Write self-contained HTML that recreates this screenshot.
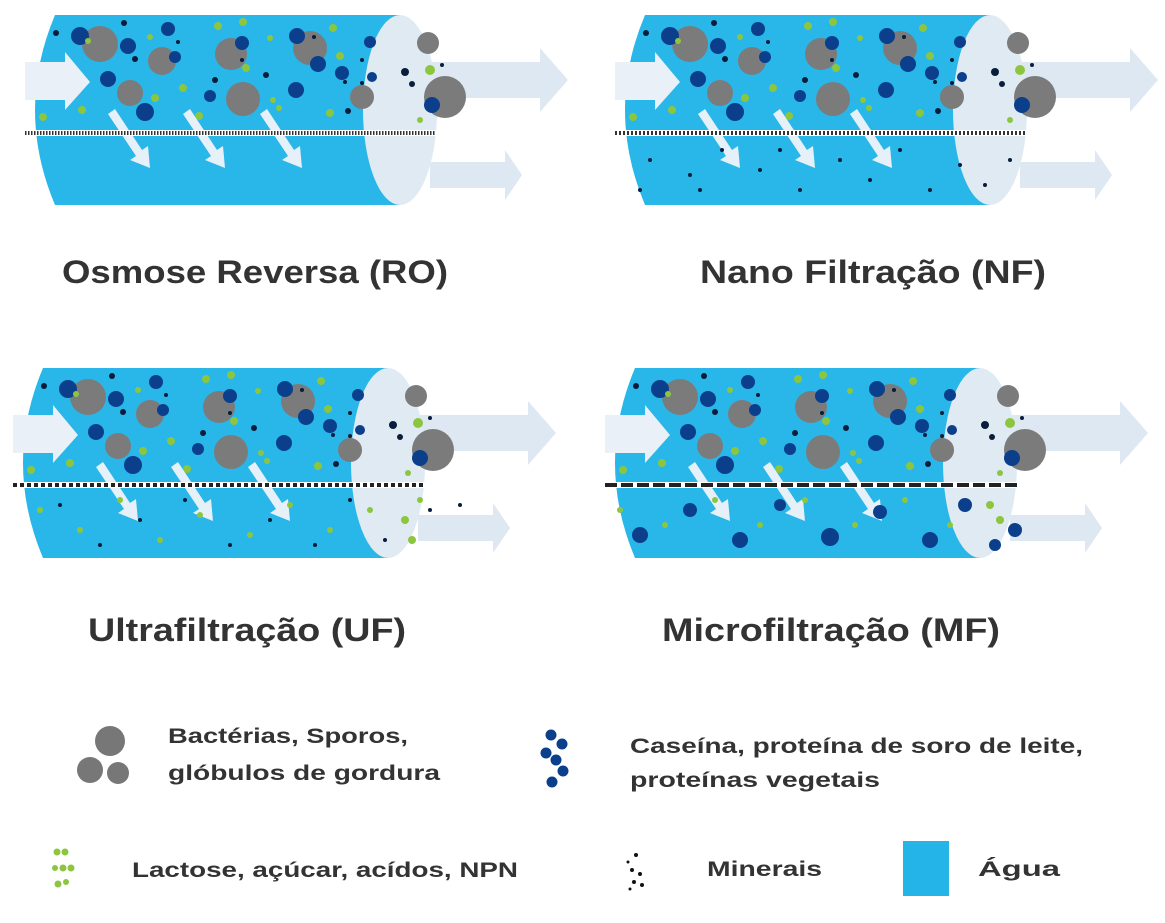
<!DOCTYPE html>
<html><head><meta charset="utf-8"><style>
body{margin:0;background:#fff;width:1165px;height:918px;overflow:hidden}
svg text{font-family:"Liberation Sans",sans-serif;font-weight:bold;fill:#333}
</style></head><body>
<svg width="1165" height="918" viewBox="0 0 1165 918" xmlns="http://www.w3.org/2000/svg">
<defs>
<g id="cyl">
 <polygon points="430,62 540,62 540,48 568,80 540,112 540,98 430,98" fill="#dde8f2"/>
 <polygon points="430,162 505,162 505,150 522,175 505,200 505,188 430,188" fill="#dde8f2"/>
 <path d="M55,15 L400,15 L400,205 L55,205 Q15,110 55,15Z" fill="#29b6e8"/>
 <ellipse cx="400" cy="110" rx="37" ry="95" fill="#dfeaf3"/>
 <polygon points="25,62 65,62 65,52 90,82 65,110 65,100 25,100" fill="#e9f0f7"/>
 <g fill="#7b7b7b">
  <circle cx="100" cy="44" r="18"/><circle cx="162" cy="61" r="14"/><circle cx="231" cy="54" r="16"/>
  <circle cx="310" cy="48" r="17"/><circle cx="130" cy="93" r="13"/><circle cx="243" cy="99" r="17"/>
  <circle cx="362" cy="97" r="12"/><circle cx="428" cy="43" r="11"/><circle cx="445" cy="97" r="21"/>
 </g>
 <g fill="#0b3f8c">
  <circle cx="80" cy="36" r="9"/><circle cx="128" cy="46" r="8"/><circle cx="168" cy="29" r="7"/>
  <circle cx="175" cy="57" r="6"/><circle cx="108" cy="79" r="8"/><circle cx="145" cy="112" r="9"/>
  <circle cx="242" cy="43" r="7"/><circle cx="210" cy="96" r="6"/><circle cx="297" cy="36" r="8"/>
  <circle cx="318" cy="64" r="8"/><circle cx="296" cy="90" r="8"/><circle cx="342" cy="73" r="7"/>
  <circle cx="370" cy="42" r="6"/><circle cx="372" cy="77" r="5"/><circle cx="432" cy="105" r="8"/>
 </g>
 <g fill="#8cc63f">
  <circle cx="43" cy="117" r="4"/><circle cx="88" cy="41" r="3"/><circle cx="150" cy="37" r="3"/>
  <circle cx="82" cy="110" r="4"/><circle cx="155" cy="98" r="4"/><circle cx="183" cy="88" r="4"/>
  <circle cx="218" cy="26" r="4"/><circle cx="243" cy="22" r="4"/><circle cx="246" cy="68" r="4"/>
  <circle cx="199" cy="116" r="4"/><circle cx="270" cy="38" r="3"/><circle cx="273" cy="100" r="3"/>
  <circle cx="279" cy="108" r="3"/><circle cx="333" cy="28" r="4"/><circle cx="340" cy="56" r="4"/>
  <circle cx="330" cy="113" r="4"/><circle cx="430" cy="70" r="5"/><circle cx="420" cy="120" r="3"/>
 </g>
 <g fill="#0a1d3a">
  <circle cx="56" cy="33" r="3"/><circle cx="124" cy="23" r="3"/><circle cx="135" cy="59" r="3"/>
  <circle cx="178" cy="42" r="2"/><circle cx="215" cy="80" r="3"/><circle cx="242" cy="60" r="2"/>
  <circle cx="266" cy="75" r="3"/><circle cx="314" cy="37" r="2"/><circle cx="345" cy="82" r="2"/>
  <circle cx="362" cy="60" r="2"/><circle cx="362" cy="83" r="2"/><circle cx="348" cy="111" r="3"/>
  <circle cx="405" cy="72" r="4"/><circle cx="412" cy="84" r="3"/><circle cx="442" cy="65" r="2"/>
 </g>
 <g fill="#e6f0f8">
  <polygon points="108,114 115,109 142,150 148,146 150,168 130,160 136,156"/>
  <polygon points="183,114 190,109 217,150 223,146 225,168 205,160 211,156"/>
  <polygon points="260,114 267,109 294,150 300,146 302,168 282,160 288,156"/>
 </g>
</g>
</defs>

<use href="#cyl" x="0" y="0"/>
<line x1="25" y1="133" x2="436" y2="133" stroke="#fff" stroke-width="6"/>
<line x1="25" y1="133" x2="436" y2="133" stroke="#333" stroke-width="4" stroke-dasharray="1.5 1.5"/>

<use href="#cyl" x="590" y="0"/>
<line x1="615" y1="133" x2="1026" y2="133" stroke="#fff" stroke-width="6"/>
<line x1="615" y1="133" x2="1026" y2="133" stroke="#333" stroke-width="4" stroke-dasharray="2 2"/>
<g fill="#0a1d3a">
 <circle cx="650" cy="160" r="2"/><circle cx="690" cy="175" r="2"/><circle cx="722" cy="150" r="2"/>
 <circle cx="700" cy="190" r="2"/><circle cx="760" cy="170" r="2"/><circle cx="800" cy="190" r="2"/>
 <circle cx="840" cy="160" r="2"/><circle cx="870" cy="180" r="2"/><circle cx="900" cy="150" r="2"/>
 <circle cx="930" cy="190" r="2"/><circle cx="960" cy="165" r="2"/><circle cx="985" cy="185" r="2"/>
 <circle cx="1010" cy="160" r="2"/><circle cx="780" cy="150" r="2"/><circle cx="640" cy="190" r="2"/>
</g>

<use href="#cyl" x="-12" y="353"/>
<line x1="13" y1="485" x2="425" y2="485" stroke="#fff" stroke-width="6"/>
<line x1="13" y1="485" x2="425" y2="485" stroke="#222" stroke-width="4" stroke-dasharray="4 3"/>
<g fill="#8cc63f">
 <circle cx="40" cy="510" r="3"/><circle cx="80" cy="530" r="3"/><circle cx="120" cy="500" r="3"/>
 <circle cx="160" cy="540" r="3"/><circle cx="200" cy="515" r="3"/><circle cx="250" cy="535" r="3"/>
 <circle cx="290" cy="505" r="3"/><circle cx="330" cy="530" r="3"/><circle cx="370" cy="510" r="3"/>
 <circle cx="405" cy="520" r="4"/><circle cx="412" cy="540" r="4"/><circle cx="420" cy="500" r="3"/>
</g>
<g fill="#0a1d3a">
 <circle cx="60" cy="505" r="2"/><circle cx="100" cy="545" r="2"/><circle cx="140" cy="520" r="2"/>
 <circle cx="185" cy="500" r="2"/><circle cx="230" cy="545" r="2"/><circle cx="270" cy="520" r="2"/>
 <circle cx="315" cy="545" r="2"/><circle cx="350" cy="500" r="2"/><circle cx="385" cy="540" r="2"/>
 <circle cx="430" cy="510" r="2"/><circle cx="460" cy="505" r="2"/>
</g>

<use href="#cyl" x="580" y="353"/>
<line x1="605" y1="485" x2="1017" y2="485" stroke="#fff" stroke-width="6"/>
<line x1="605" y1="485" x2="1017" y2="485" stroke="#222" stroke-width="4" stroke-dasharray="12 4"/>
<g fill="#0b3f8c">
 <circle cx="640" cy="535" r="8"/><circle cx="690" cy="510" r="7"/><circle cx="740" cy="540" r="8"/>
 <circle cx="780" cy="505" r="6"/><circle cx="830" cy="537" r="9"/><circle cx="880" cy="512" r="7"/>
 <circle cx="930" cy="540" r="8"/><circle cx="965" cy="505" r="7"/><circle cx="1015" cy="530" r="7"/>
 <circle cx="995" cy="545" r="6"/>
</g>
<g fill="#8cc63f">
 <circle cx="620" cy="510" r="3"/><circle cx="665" cy="525" r="3"/><circle cx="715" cy="500" r="3"/>
 <circle cx="760" cy="525" r="3"/><circle cx="805" cy="500" r="3"/><circle cx="855" cy="525" r="3"/>
 <circle cx="905" cy="500" r="3"/><circle cx="950" cy="525" r="3"/><circle cx="990" cy="505" r="4"/>
 <circle cx="1000" cy="520" r="4"/>
</g>

<text x="62" y="283" font-size="32" textLength="386" lengthAdjust="spacingAndGlyphs">Osmose Reversa (RO)</text>
<text x="700" y="283" font-size="32" textLength="346" lengthAdjust="spacingAndGlyphs">Nano Filtração (NF)</text>
<text x="88" y="641" font-size="32" textLength="318" lengthAdjust="spacingAndGlyphs">Ultrafiltração (UF)</text>
<text x="662" y="641" font-size="32" textLength="338" lengthAdjust="spacingAndGlyphs">Microfiltração (MF)</text>

<g fill="#777">
 <circle cx="110" cy="741" r="15"/><circle cx="90" cy="770" r="13"/><circle cx="118" cy="773" r="11"/>
</g>
<text x="168" y="743" font-size="21" textLength="240" lengthAdjust="spacingAndGlyphs">Bactérias, Sporos,</text>
<text x="168" y="780" font-size="21" textLength="272" lengthAdjust="spacingAndGlyphs">glóbulos de gordura</text>
<g fill="#0b3f8c">
 <circle cx="551" cy="735" r="5.5"/><circle cx="562" cy="744" r="5.5"/><circle cx="546" cy="753" r="5.5"/>
 <circle cx="556" cy="760" r="5.5"/><circle cx="563" cy="771" r="5.5"/><circle cx="552" cy="782" r="5.5"/>
</g>
<text x="630" y="753" font-size="21" textLength="453" lengthAdjust="spacingAndGlyphs">Caseína, proteína de soro de leite,</text>
<text x="630" y="787" font-size="21" textLength="250" lengthAdjust="spacingAndGlyphs">proteínas vegetais</text>
<g fill="#8cc63f">
 <circle cx="57" cy="852" r="3.5"/><circle cx="65" cy="852" r="3.5"/>
 <circle cx="55" cy="868" r="3"/><circle cx="63" cy="868" r="3.5"/><circle cx="71" cy="868" r="3.5"/>
 <circle cx="58" cy="884" r="3.5"/><circle cx="66" cy="882" r="3"/>
</g>
<text x="132" y="877" font-size="21" textLength="386" lengthAdjust="spacingAndGlyphs">Lactose, açúcar, acídos, NPN</text>
<g fill="#111">
 <circle cx="636" cy="855" r="2"/><circle cx="628" cy="862" r="1.5"/><circle cx="632" cy="870" r="2"/>
 <circle cx="640" cy="874" r="2"/><circle cx="634" cy="882" r="2"/><circle cx="642" cy="885" r="2"/>
 <circle cx="630" cy="889" r="1.5"/>
</g>
<text x="707" y="876" font-size="21" textLength="115" lengthAdjust="spacingAndGlyphs">Minerais</text>
<rect x="903" y="841" width="46" height="55" fill="#25b4e8"/>
<text x="978" y="876" font-size="21" textLength="82" lengthAdjust="spacingAndGlyphs">Água</text>
</svg>
</body></html>
